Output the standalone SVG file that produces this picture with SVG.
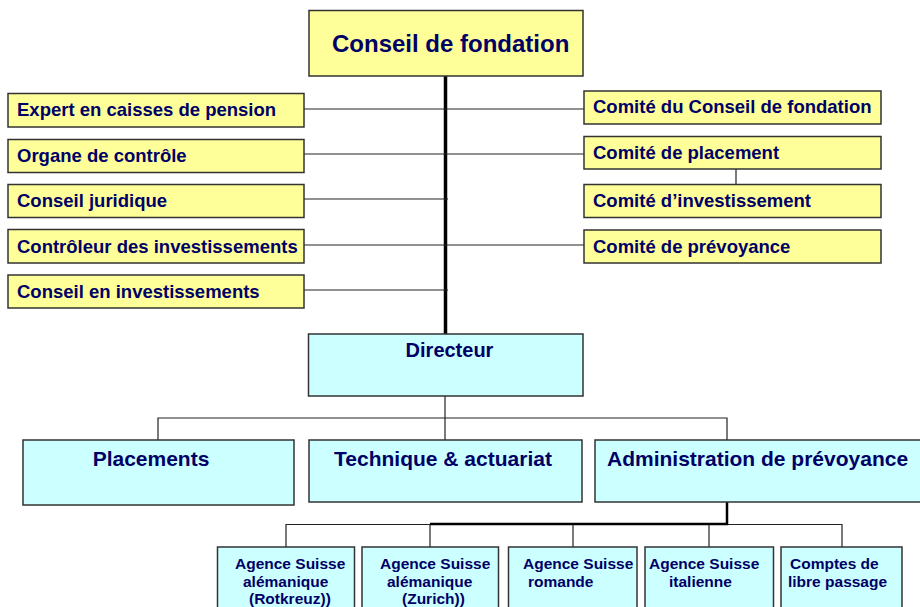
<svg xmlns="http://www.w3.org/2000/svg" width="920" height="607" viewBox="0 0 920 607">
<style>
.y{fill:#FFFF99;stroke:#333;stroke-width:1.5}
.c{fill:#CCFFFF;stroke:#333;stroke-width:1.5}
text{font-family:"Liberation Sans",Arial,sans-serif;font-weight:bold;fill:#000066}
.s{font-size:18.5px}
.m{font-size:21px}
.b{font-size:15.5px}
.ln{stroke:#222;stroke-width:1.2;fill:none}
.th{stroke:#000;stroke-width:3.5;fill:none}
</style>
<rect width="920" height="607" fill="#fff"/>
<g id="connectors">
<line class="th" x1="445.5" y1="76" x2="445.5" y2="334"/>
<line class="ln" x1="304" y1="109" x2="584" y2="109"/>
<line class="ln" x1="304" y1="154" x2="584" y2="154"/>
<line class="ln" x1="304" y1="199" x2="448" y2="199"/>
<line class="ln" x1="304" y1="245" x2="584" y2="245"/>
<line class="ln" x1="304" y1="290" x2="448" y2="290"/>
<line class="ln" x1="736" y1="169" x2="736" y2="184"/>
<line class="ln" x1="445" y1="396" x2="445" y2="440"/>
<polyline class="ln" points="158,440 158,418 727,418 727,440"/>
<polyline class="ln" points="286,547 286,524.5 842,524.5 842,547"/>
<line class="ln" x1="430" y1="524" x2="430" y2="547"/>
<line class="ln" x1="573" y1="524" x2="573" y2="547"/>
<line class="ln" x1="709" y1="524" x2="709" y2="547"/>
<polyline class="th" style="stroke-width:2.5" points="727,502 727,524 430,524"/>
</g>
<g id="conseil-fondation"><rect class="y" x="309" y="10.5" width="274" height="65.5"/><text class="m" x="332" y="52" style="font-size:24px">Conseil de fondation</text></g>
<g id="expert"><rect class="y" x="8" y="93.5" width="296" height="33.5"/><text class="s" x="17" y="116">Expert en caisses de pension</text></g>
<g id="organe"><rect class="y" x="8" y="139.5" width="296" height="33"/><text class="s" x="17" y="161.7">Organe de contrôle</text></g>
<g id="juridique"><rect class="y" x="8" y="184.5" width="296" height="33"/><text class="s" x="17" y="207.3">Conseil juridique</text></g>
<g id="controleur"><rect class="y" x="8" y="229.5" width="296" height="33.5"/><text class="s" x="17" y="252.7">Contrôleur des investissements</text></g>
<g id="conseil-invest"><rect class="y" x="8" y="275" width="296" height="33"/><text class="s" x="17" y="297.7">Conseil en investissements</text></g>
<g id="comite-conseil"><rect class="y" x="584" y="91" width="297" height="33"/><text class="s" x="593" y="113.3">Comité du Conseil de fondation</text></g>
<g id="comite-placement"><rect class="y" x="584" y="136.5" width="297" height="32.5"/><text class="s" x="593" y="159.3">Comité de placement</text></g>
<g id="comite-invest"><rect class="y" x="584" y="184.5" width="297" height="33"/><text class="s" x="593" y="207.3">Comité d’investissement</text></g>
<g id="comite-prevoyance"><rect class="y" x="584" y="230" width="297" height="33"/><text class="s" x="593" y="252.7">Comité de prévoyance</text></g>
<g id="directeur"><rect class="c" x="308.5" y="334" width="274.5" height="62"/><text class="m" x="449.5" y="357" text-anchor="middle" style="font-size:20px">Directeur</text></g>
<g id="placements"><rect class="c" x="23" y="440" width="271" height="65"/><text class="m" x="151" y="466" text-anchor="middle">Placements</text></g>
<g id="technique"><rect class="c" x="309" y="440" width="273" height="62"/><text class="m" x="443" y="466" text-anchor="middle">Technique &amp; actuariat</text></g>
<g id="administration"><rect class="c" x="595" y="440" width="340" height="62"/><text class="m" x="607" y="466">Administration de prévoyance</text></g>
<g id="agence-rotkreuz"><rect class="c" x="217.5" y="547" width="137" height="80"/><text class="b"><tspan x="235" y="569">Agence Suisse</tspan><tspan x="243" y="587">alémanique</tspan><tspan x="249" y="604">(Rotkreuz))</tspan></text></g>
<g id="agence-zurich"><rect class="c" x="362" y="547" width="136.5" height="80"/><text class="b"><tspan x="380" y="569">Agence Suisse</tspan><tspan x="387" y="587">alémanique</tspan><tspan x="402" y="604">(Zurich))</tspan></text></g>
<g id="agence-romande"><rect class="c" x="508.5" y="547" width="128.5" height="80"/><text class="b"><tspan x="523" y="569">Agence Suisse</tspan><tspan x="528" y="587">romande</tspan></text></g>
<g id="agence-italienne"><rect class="c" x="645" y="547" width="128.5" height="80"/><text class="b"><tspan x="649" y="569">Agence Suisse</tspan><tspan x="669" y="587">italienne</tspan></text></g>
<g id="libre-passage"><rect class="c" x="781" y="547" width="121" height="80"/><text class="b"><tspan x="790" y="569">Comptes de</tspan><tspan x="788" y="587">libre passage</tspan></text></g>
</svg>
